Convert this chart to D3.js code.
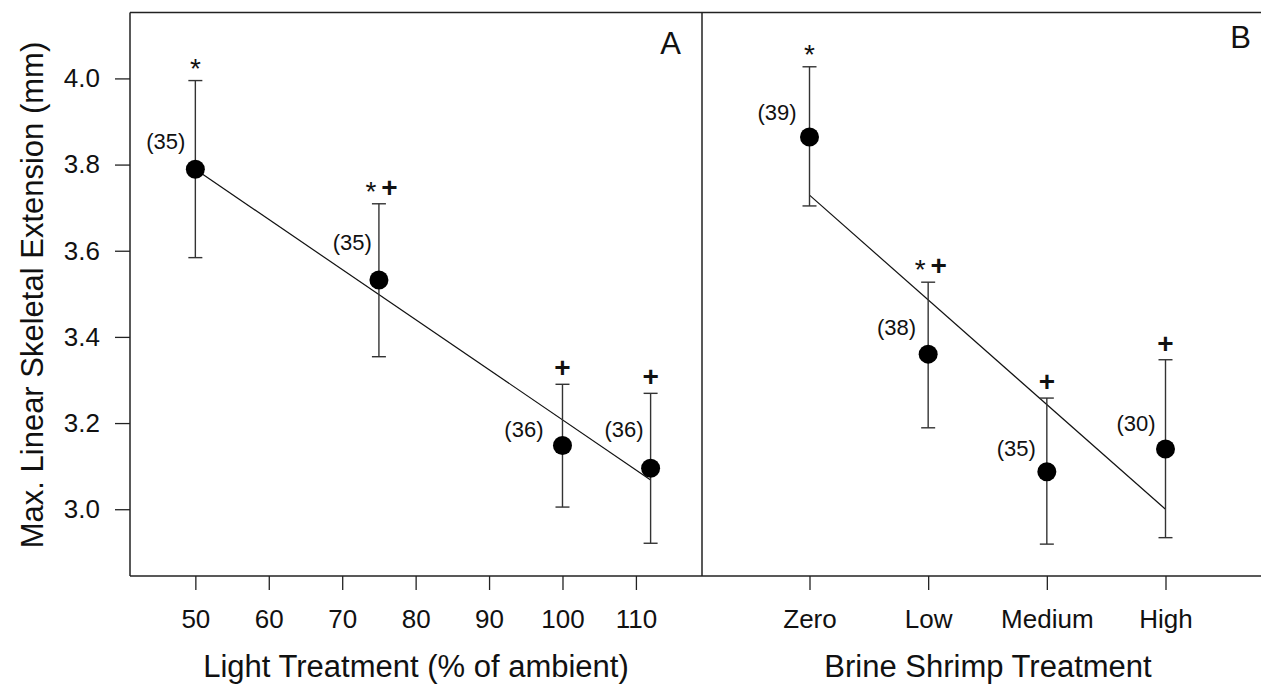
<!doctype html>
<html>
<head>
<meta charset="UTF-8">
<title>Skeletal extension</title>
<script src="https://cdn.jsdelivr.net/npm/d3@7"></script>
<style>
  body { margin: 0; background: #fff; }
  svg text { font-family: "Liberation Sans", Arial, sans-serif; fill: #111; }
</style>
</head>
<body>
<script>
// panel A - light treatment
var lightLevels = [50, 75, 100, 112];
var lightMeans  = [3.789, 3.532, 3.148, 3.095];
var lightLower  = [3.584, 3.354, 3.005, 2.921];
var lightUpper  = [3.995, 3.709, 3.290, 3.269];
var lightN      = [35, 35, 36, 36];
var lightSig    = ["*", "*+", "+", "+"];
var lightFit    = [3.789, 3.068];   // regression at 50 and 112
var lightTicks  = [50, 60, 70, 80, 90, 100, 110];

// panel B - brine shrimp treatment
var shrimpCats  = ["Zero", "Low", "Medium", "High"];
var shrimpMeans = [3.864, 3.360, 3.087, 3.140];
var shrimpLower = [3.704, 3.189, 2.919, 2.934];
var shrimpUpper = [4.027, 3.527, 3.258, 3.347];
var shrimpN     = [39, 38, 35, 30];
var shrimpSig   = ["*", "*+", "+", "+"];
var shrimpFit   = [3.729, 3.000];   // regression at Zero and High

var yTicks = [3.0, 3.2, 3.4, 3.6, 3.8, 4.0];

// where the (n) labels sit relative to each point (layout, not data)
var lightLabelOff  = [[-10, -28], [-7, -38], [-19, -16], [-7, -39]];
var shrimpLabelOff = [[-13, -25], [-12, -27], [-11, -23], [-10, -26]];

var w = 1261, h = 684;
var plotLeft = 130, plotMid = 702, plotTop = 12.5, plotBottom = 576;

var svg = d3.select("body").append("svg")
    .attr("width", w).attr("height", h);

var y = d3.scaleLinear().domain([2.845, 4.153]).range([plotBottom, plotTop]);
var xA = d3.scaleLinear().domain([41.1, 119]).range([plotLeft, plotMid]);
var xB = d3.scalePoint().domain(shrimpCats).range([809.5, 1165.5]);

// frame
var frame = svg.append("g").attr("stroke", "#222").attr("stroke-width", 1.5);
frame.append("line").attr("x1", plotLeft).attr("x2", w).attr("y1", plotTop).attr("y2", plotTop);
frame.append("line").attr("x1", plotLeft).attr("x2", w).attr("y1", plotBottom).attr("y2", plotBottom);
frame.append("line").attr("x1", plotLeft).attr("x2", plotLeft).attr("y1", plotTop).attr("y2", plotBottom);
frame.append("line").attr("x1", plotMid).attr("x2", plotMid).attr("y1", plotTop).attr("y2", plotBottom);

// axes
var yAxis = svg.append("g").attr("transform", "translate(" + plotLeft + ",0)")
    .call(d3.axisLeft(y).tickValues(yTicks).tickFormat(d3.format(".1f"))
        .tickSize(15).tickPadding(15).tickSizeOuter(0));
var xAxisA = svg.append("g").attr("transform", "translate(0," + plotBottom + ")")
    .call(d3.axisBottom(xA).tickValues(lightTicks).tickSize(14).tickPadding(20).tickSizeOuter(0));
var xAxisB = svg.append("g").attr("transform", "translate(0," + plotBottom + ")")
    .call(d3.axisBottom(xB).tickSize(14).tickPadding(20).tickSizeOuter(0));

[yAxis, xAxisA, xAxisB].forEach(function(a){
    a.select(".domain").remove();
    a.selectAll(".tick line").attr("stroke", "#222").attr("stroke-width", 1.3);
    a.selectAll(".tick text").attr("font-size", 26).attr("fill", "#111")
        .style("font-family", "'Liberation Sans', Arial, sans-serif");
});

// axis titles
svg.append("text")
    .attr("transform", "translate(42.5,295) rotate(-90)")
    .attr("text-anchor", "middle").attr("font-size", 31)
    .text("Max. Linear Skeletal Extension (mm)");
svg.append("text").attr("x", 416).attr("y", 677)
    .attr("text-anchor", "middle").attr("font-size", 31)
    .text("Light Treatment (% of ambient)");
svg.append("text").attr("x", 988).attr("y", 677)
    .attr("text-anchor", "middle").attr("font-size", 31)
    .text("Brine Shrimp Treatment");

// panel letters
svg.append("text").attr("x", 681).attr("y", 54).attr("text-anchor", "end")
    .attr("font-size", 31).text("A");
svg.append("text").attr("x", 1251).attr("y", 48).attr("text-anchor", "end")
    .attr("font-size", 31).text("B");

function panel(xs, means, lower, upper, ns, sig, offs, fitX, fit){
    var g = svg.append("g");
    var rows = xs.map(function(d, i){
        return { x: d, m: means[i], lo: lower[i], hi: upper[i], n: ns[i], s: sig[i], off: offs[i] };
    });

    // fitted line
    g.append("line")
        .attr("x1", fitX[0]).attr("y1", y(fit[0]))
        .attr("x2", fitX[1]).attr("y2", y(fit[1]))
        .attr("stroke", "#111").attr("stroke-width", 1.2);

    // error bars
    var eb = g.selectAll(".eb").data(rows).enter().append("g")
        .attr("stroke", "#333").attr("stroke-width", 1.4);
    eb.append("line").attr("x1", function(d){ return d.x; }).attr("x2", function(d){ return d.x; })
        .attr("y1", function(d){ return y(d.lo); }).attr("y2", function(d){ return y(d.hi); });
    eb.append("line").attr("x1", function(d){ return d.x - 7; }).attr("x2", function(d){ return d.x + 7; })
        .attr("y1", function(d){ return y(d.lo); }).attr("y2", function(d){ return y(d.lo); });
    eb.append("line").attr("x1", function(d){ return d.x - 7; }).attr("x2", function(d){ return d.x + 7; })
        .attr("y1", function(d){ return y(d.hi); }).attr("y2", function(d){ return y(d.hi); });

    // means
    g.selectAll("circle").data(rows).enter().append("circle")
        .attr("cx", function(d){ return d.x; })
        .attr("cy", function(d){ return y(d.m); })
        .attr("r", 9.5).attr("fill", "#000");

    // sample sizes
    g.selectAll(".n").data(rows).enter().append("text")
        .attr("x", function(d){ return d.x + d.off[0]; })
        .attr("y", function(d){ return y(d.m) + d.off[1]; })
        .attr("dy", "0.35em").attr("text-anchor", "end").attr("font-size", 22)
        .text(function(d){ return "(" + d.n + ")"; });

    // significance marks
    rows.forEach(function(d){
        var chars = d.s.split("");
        chars.forEach(function(c){
            var dx = chars.length > 1 ? (c === "*" ? -8 : 10.5) : 0;
            var base = c === "*" ? y(d.hi) - 3 : y(d.hi) - 7;
            g.append("text").attr("x", d.x + dx).attr("y", base)
                .attr("text-anchor", "middle").attr("font-size", 28)
                .attr("font-weight", c === "+" ? "bold" : "normal")
                .text(c);
        });
    });
}

panel(lightLevels.map(function(d){ return xA(d); }), lightMeans, lightLower, lightUpper,
      lightN, lightSig, lightLabelOff, [xA(lightLevels[0]), xA(lightLevels[3])], lightFit);
panel(shrimpCats.map(function(d){ return xB(d); }), shrimpMeans, shrimpLower, shrimpUpper,
      shrimpN, shrimpSig, shrimpLabelOff, [xB("Zero"), xB("High")], shrimpFit);
</script>
</body>
</html>
